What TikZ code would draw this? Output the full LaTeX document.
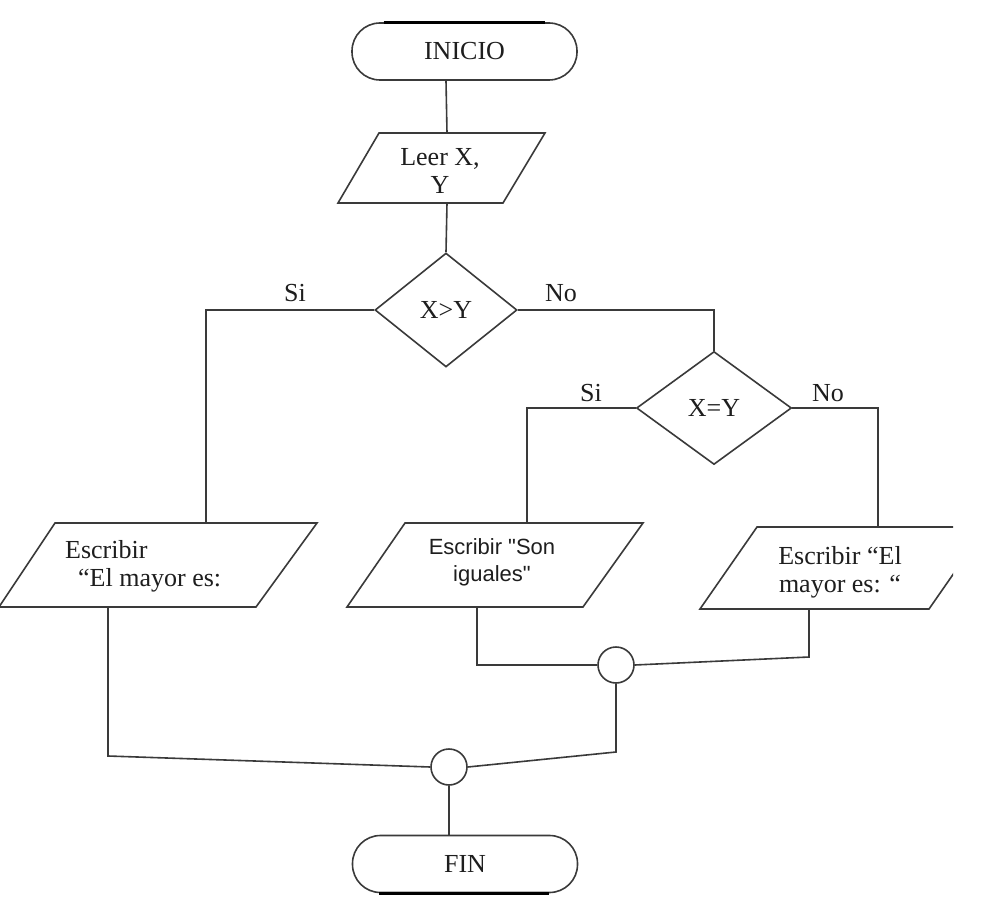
\documentclass[tikz,border=0pt]{standalone}
\usepackage{fontspec}
\setmainfont{Liberation Serif}
\newfontfamily\sansf{Liberation Sans}
\usetikzlibrary{shapes.geometric}

\definecolor{ink}{HTML}{3A3A3A}
\definecolor{txt}{HTML}{1E1E1E}

\tikzset{
  line/.style={draw=ink, line width=1.6pt, line join=miter},
  lbl/.style={text=txt, inner sep=0pt, font=\fontsize{26}{28}\selectfont},
  terminal/.style={line, rectangle, rounded corners=28pt, minimum width=225pt,
    minimum height=57pt, inner sep=0pt, text=txt, font=\fontsize{26}{28}\selectfont},
  decision/.style={line, diamond, inner sep=0pt, text=txt,
    font=\fontsize{26}{28}\selectfont},
  joint/.style={line, circle, minimum size=36pt, inner sep=0pt},
  iobox/.style={line},
  edgebar/.style={draw=black, line width=3pt},
}

\begin{document}
\begin{tikzpicture}[x=1pt, y=-1pt]
\useasboundingbox[fill=white] (0,0) rectangle (988,920);

% start / end terminals
\node[terminal] (inicio) at (464.5,51.5) {INICIO};
\node[terminal] (fin) at (465,864) {FIN};
\draw[edgebar] ([xshift=-81pt]inicio.north) -- ([xshift=80pt]inicio.north);
\draw[edgebar] ([xshift=-86pt]fin.south) -- ([xshift=84pt]fin.south);

% input: Leer X, Y
\draw[iobox] (379,133) -- (545,133) -- (503,203) -- (338,203) -- cycle;
\coordinate (leer-n) at (447,133);
\coordinate (leer-s) at (447,203);
\node[lbl, align=center] (leer) at (440,171) {Leer X,\\Y};

% decisions
\node[decision, minimum width=142pt, minimum height=114pt] (d1) at (446,310) {X>Y};
\node[decision, minimum width=155pt, minimum height=113pt] (d2) at (714,408) {X=Y};

% output boxes
\draw[iobox] (55,523) -- (317,523) -- (256,607) -- (-1,607) -- cycle;
\coordinate (lp-n) at (206,523);
\coordinate (lp-s) at (108,607);
\node[lbl, anchor=west, align=left] (lp) at (65,566) {Escribir\\\hspace*{13pt}“El mayor es:};

\draw[iobox] (405,523) -- (643,523) -- (583,607) -- (347,607) -- cycle;
\coordinate (mp-n) at (527,523);
\coordinate (mp-s) at (477,607);
\node[lbl, align=center, font=\sansf\fontsize{22}{27}\selectfont] (mp) at (492,562) {Escribir "Son\\iguales"};

\begin{scope}
  \clip (0,0) rectangle (953,920);
  \draw[iobox] (757,527) -- (986,527) -- (929,609) -- (700,609) -- cycle;
\end{scope}
\coordinate (rp-n) at (878,527);
\coordinate (rp-s) at (809,609);
\node[lbl, align=center] (rp) at (840,572) {Escribir “El\\mayor es: “};

% junction circles
\node[joint] (c1) at (616,665) {};
\node[joint] (c2) at (449,767) {};

% branch labels
\node[lbl] (si1) at (295,293) {Si};
\node[lbl] (no1) at (561,293) {No};
\node[lbl] (si2) at (591,393) {Si};
\node[lbl] (no2) at (828,393) {No};

% connectors
\draw[line] (inicio.south -| d1.north) -- (leer-n);
\draw[line] (leer-s) -- (d1.north);
\draw[line] (d1.west) -| (lp-n);
\draw[line] (d1.east) -| (d2.north);
\draw[line] (d2.west) -| (mp-n);
\draw[line] (d2.east) -| (rp-n);
\draw[line] (mp-s) |- (c1.west);
\coordinate (rp-j) at (809,657);
\draw[line] (rp-s) -- (rp-j) -- (c1.east);
\coordinate (c1-j) at (616,752);
\draw[line] (c1.south) -- (c1-j) -- (c2.east);
\coordinate (lp-j) at (108,756);
\draw[line] (lp-s) -- (lp-j) -- (c2.west);
\draw[line] (c2.south) -- (c2.south |- fin.north);
\end{tikzpicture}
\end{document}
